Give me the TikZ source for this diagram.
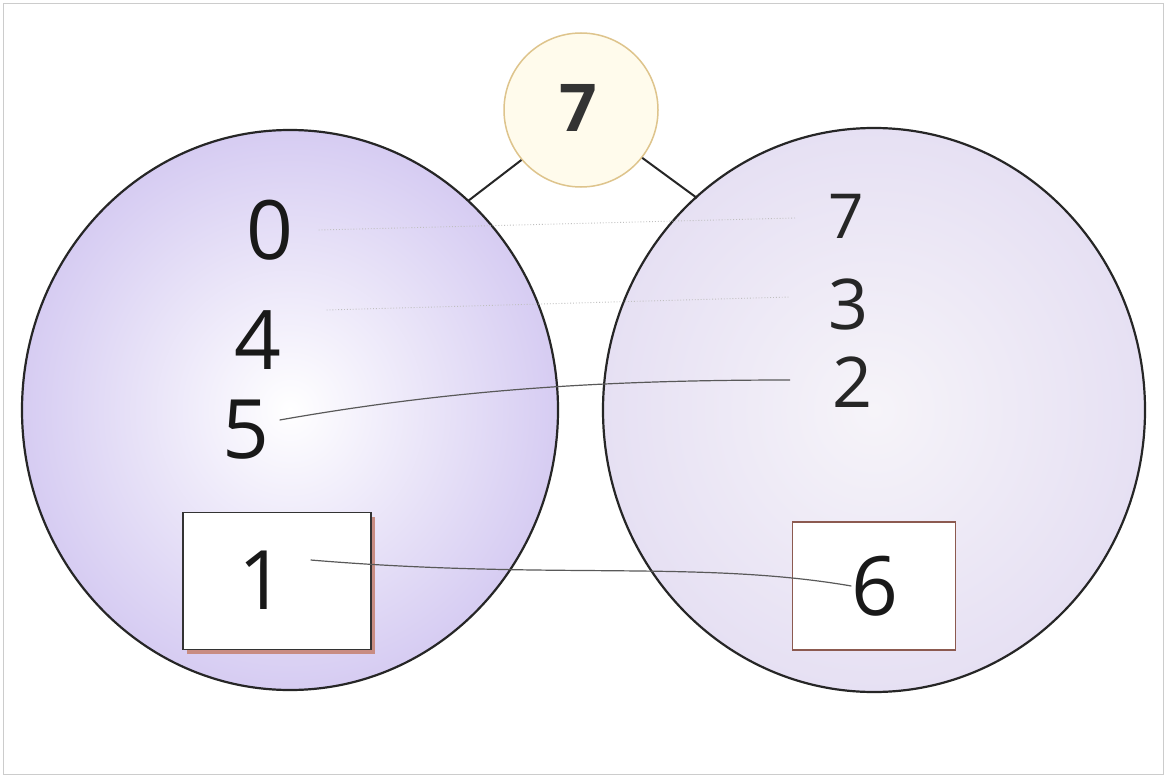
\documentclass[tikz,border=0pt]{standalone}
\usepackage{fontspec}
\setmainfont{Open Sans}
\usetikzlibrary{shapes.geometric}
\definecolor{lavL}{RGB}{214,204,242}
\definecolor{lavRin}{RGB}{246,244,249}
\definecolor{lavRout}{RGB}{230,224,243}
\definecolor{tcircd}{RGB}{222,196,140}
\definecolor{tcircf}{RGB}{255,251,236}
\definecolor{boxshadow}{RGB}{200,140,130}
\definecolor{boxdraw}{RGB}{140,90,80}
\begin{document}
\begin{tikzpicture}[x=1pt,y=-1pt,
  bigcirc/.style={draw=black!85,line width=2.2pt},
  digit/.style={font=\fontsize{82}{82}\selectfont, text=black!90, inner sep=0pt},
  rdigit/.style={font=\fontsize{70}{70}\selectfont, text=black!85, inner sep=0pt},
  numbox/.style={draw=black!80,line width=1.6pt,fill=white,inner sep=0pt},
  faint/.style={draw=black!25,line width=0.9pt,dotted},
  linkline/.style={draw=black!65,line width=1.2pt},
  stem/.style={draw=black!85,line width=2pt}]
\useasboundingbox (0,0) rectangle (1166,778);
\fill[white] (0,0) rectangle (1166,778);
\draw[black!20,line width=1pt] (3,4) rectangle (1163,774);
% big circles
\shade[inner color=white,outer color=lavL]
  (290,410) ellipse [x radius=268,y radius=280];
\node[bigcirc,ellipse,minimum width=536pt,minimum height=560pt,inner sep=0pt] (L) at (290,410) {};
\shade[inner color=lavRin,outer color=lavRout]
  (874,410) ellipse [x radius=271,y radius=282];
\node[bigcirc,ellipse,minimum width=542pt,minimum height=564pt,inner sep=0pt] (R) at (874,410) {};
% top circle
\node[circle,draw=tcircd,line width=1.5pt,fill=tcircf,minimum size=154pt,inner sep=0pt] (T) at (581,110) {};
\node[font=\fontsize{66}{66}\selectfont\bfseries,text=black!80] (Tn) at (578,108) {7};
\coordinate (la) at (468,201);
\coordinate (ra) at (697,198);
\draw[stem] (T.220) -- (la);
\draw[stem] (T.-38) -- (ra);
% boxes
\fill[boxshadow] (187,517) rectangle (375,654);
\node[numbox,minimum width=188pt,minimum height=137pt] (B1) at (277,581) {};
\node[numbox,draw=boxdraw,minimum width=163pt,minimum height=128pt] (B6) at (874,586) {};
% digits
\node[digit] (n0) at (270,230) {0};
\node[digit] (n4) at (258,340) {4};
\node[digit] (n5) at (246,430) {5};
\node[digit] (n1) at (262,580) {1};
\node[rdigit,font=\fontsize{62}{62}\selectfont] (m7) at (846,216) {7};
\node[rdigit] (m3) at (848,304) {3};
\node[rdigit] (m2) at (852,382) {2};
\node[digit] (m6) at (875,586) {6};
% connectors
\draw[faint] (n0.east) ++(25,0) -- (795,218);
\draw[faint] (n4.east) ++(45,-30) -- (790,297);
\draw[linkline] (n5.east) ++(10,-10) .. controls (450,390) and (600,380) .. (790,380);
\draw[linkline] (n1.east) ++(25,-20) .. controls (550,580) and (700,560) .. (m6.west);
\end{tikzpicture}
\end{document}
